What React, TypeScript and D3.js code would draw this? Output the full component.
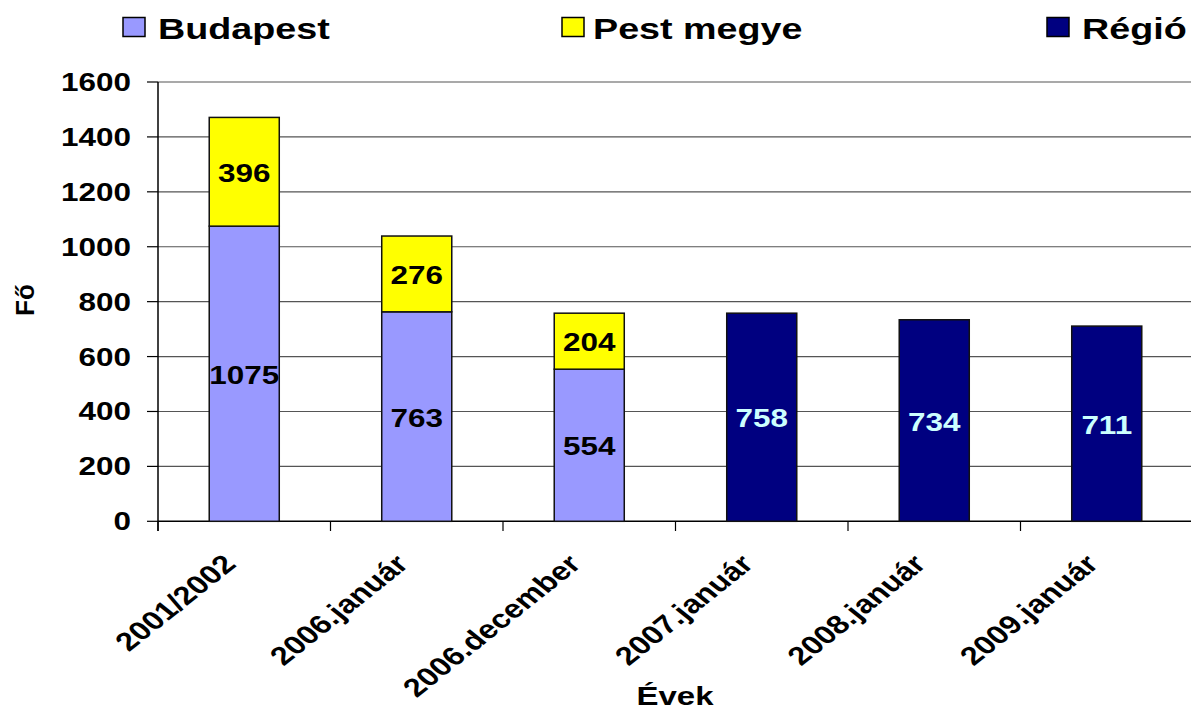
import * as d3 from "d3"

const categories = ["2001/2002", "2006.január", "2006.december", "2007.január", "2008.január", "2009.január"]
const budapest = [1075, 763, 554, 0, 0, 0]
const pestMegye = [396, 276, 204, 0, 0, 0]
const regio = [0, 0, 0, 758, 734, 711]
const seriesNames = ["Budapest", "Pest megye", "Régió"]
const yTicks = [0, 200, 400, 600, 800, 1000, 1200, 1400, 1600]

const colors = ["#9999FF", "#FFFF00", "#000080"]
const labelColors = ["#000000", "#000000", "#CCFFFF"]

const W = 1191
const H = 711
const FONT = "'Liberation Sans', Arial, sans-serif"
const SX = 1.21

export default function App() {
  const x = d3.scaleBand().domain(categories).range([158, 1193]).paddingInner(0.594).paddingOuter(0.297)
  const y = d3.scaleLinear().domain([0, 1600]).range([521.3, 82])

  const rows = categories.map((c, i) => ({ cat: c, s0: budapest[i], s1: pestMegye[i], s2: regio[i] }))
  const stacked = d3.stack<any>().keys(["s0", "s1", "s2"])(rows)

  const step = x.step()
  const bounds = categories.map((_, i) => 158 + i * step)

  const legendX = [{ box: 123, text: 158 }, { box: 562, text: 593 }, { box: 1047, text: 1082 }]

  return (
    <svg width={W} height={H} style={{ position: "absolute", left: 0, top: 0, background: "#fff" }}>
      {/* gridlines */}
      {yTicks.map((t) => (
        <line key={t} x1={158} x2={W} y1={y(t)} y2={y(t)} stroke={t === 0 ? "#000" : "#555"} strokeWidth={t === 0 ? 1.5 : 1.2} />
      ))}
      {/* y ticks */}
      {yTicks.map((t) => (
        <g key={"yt" + t}>
          <line x1={147} x2={158} y1={y(t)} y2={y(t)} stroke="#000" strokeWidth={1.2} />
          <text
            transform={`translate(131,${y(t)}) scale(${SX},1)`}
            textAnchor="end"
            dominantBaseline="central"
            fontFamily={FONT}
            fontWeight="bold"
            fontSize={26}
          >
            {t}
          </text>
        </g>
      ))}
      {/* x category ticks */}
      {bounds.map((b, i) => (
        <line key={"xt" + i} x1={b} x2={b} y1={521.3} y2={531} stroke="#000" strokeWidth={1.2} />
      ))}
      {/* bars */}
      {stacked.map((layer, si) =>
        layer.map((d, i) => {
          const v = d[1] - d[0]
          if (v <= 0) return null
          const bx = x(categories[i])!
          const y0 = y(d[0])
          const y1 = y(d[1])
          return (
            <g key={si + "-" + i}>
              <rect x={bx} y={y1} width={x.bandwidth()} height={y0 - y1} fill={colors[si]} stroke="#111" strokeWidth={1.5} />
              <text
                transform={`translate(${bx + x.bandwidth() / 2},${(y0 + y1) / 2 + 1}) scale(${SX},1)`}
                textAnchor="middle"
                dominantBaseline="central"
                fontFamily={FONT}
                fontWeight="bold"
                fontSize={26}
                fill={labelColors[si]}
              >
                {v}
              </text>
            </g>
          )
        })
      )}
      {/* y axis */}
      <line x1={158} x2={158} y1={82} y2={531} stroke="#000" strokeWidth={1.5} />
      {/* x labels */}
      {categories.map((c) => (
        <text
          key={"xl" + c}
          transform={`translate(${x(c)! + x.bandwidth() / 2 - 15},${559}) scale(1.25,1) rotate(-45)`}
          textAnchor="end"
          dominantBaseline="central"
          fontFamily={FONT}
          fontWeight="bold"
          fontSize={26}
        >
          {c}
        </text>
      ))}
      {/* axis titles */}
      <text transform={`translate(675,705) scale(1.32,1)`} textAnchor="middle" fontFamily={FONT} fontWeight="bold" fontSize={25}>
        Évek
      </text>
      <text transform={`translate(34,300) rotate(-90)`} textAnchor="middle" fontFamily={FONT} fontWeight="bold" fontSize={26}>
        Fő
      </text>
      {/* legend */}
      {seriesNames.map((n, i) => (
        <g key={"lg" + n}>
          <rect x={legendX[i].box} y={17.5} width={22} height={19} fill={colors[i]} stroke="#000" strokeWidth={1.5} />
          <text
            transform={`translate(${legendX[i].text},39) scale(1.3,1)`}
            fontFamily={FONT}
            fontWeight="bold"
            fontSize={29}
          >
            {n}
          </text>
        </g>
      ))}
    </svg>
  )
}
